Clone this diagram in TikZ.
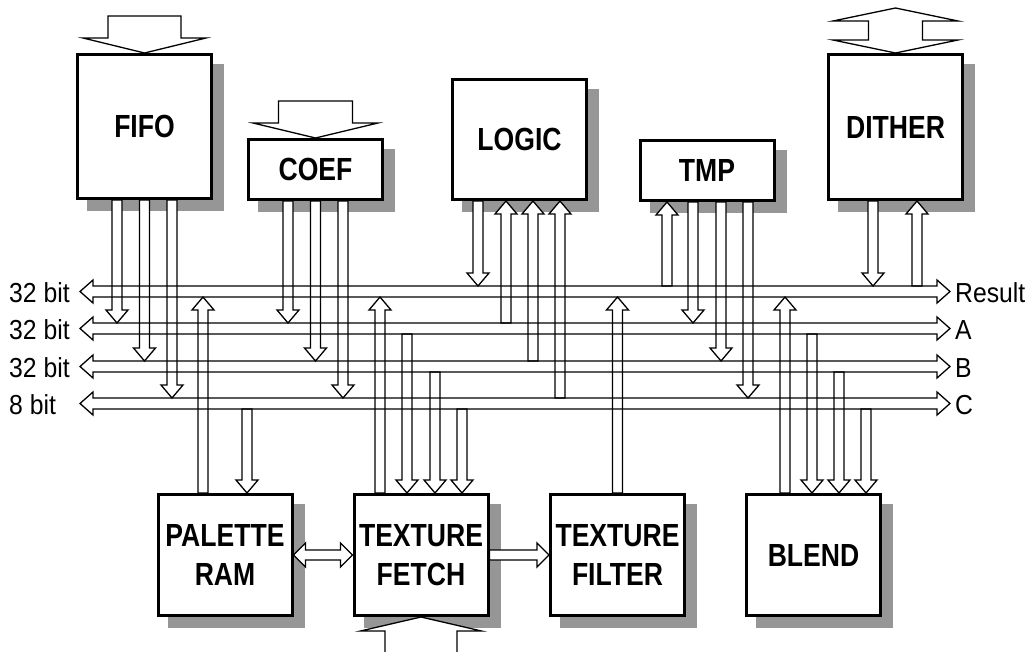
\documentclass[tikz,border=0pt]{standalone}
\usepackage{fontspec}
\setmainfont{Liberation Sans}
\newfontfamily\blockfont{Liberation Sans}[FakeStretch=0.83]
\newfontfamily\busfont{Liberation Sans}[FakeStretch=0.9]
\usetikzlibrary{calc}

\definecolor{pipeShadow}{RGB}{150,150,150}
\definecolor{pipeLine}{RGB}{0,0,0}
\definecolor{pipeFill}{RGB}{255,255,255}

\pgfdeclarelayer{shadow}
\pgfdeclarelayer{fills}
\pgfsetlayers{shadow,fills,main}

% hollow arrow: shaft half width, head half width, head length, tail, tip
\newcommand{\hollowarrow}[5]{%
  \path #4 coordinate (ha-t) #5 coordinate (ha-h);
  \path ($(ha-h)!#3!(ha-t)$) coordinate (ha-c);
  \def\hapath{($(ha-t)!#1!90:(ha-h)$) -- ($(ha-c)!#1!90:(ha-h)$)
    -- ($(ha-c)!#2!90:(ha-h)$) -- (ha-h) -- ($(ha-c)!#2!-90:(ha-h)$)
    -- ($(ha-c)!#1!-90:(ha-h)$) -- ($(ha-t)!#1!-90:(ha-h)$) -- cycle}%
  \begin{pgfonlayer}{fills}\fill[pipeFill] \hapath;\end{pgfonlayer}%
  \draw[hollowline] \hapath;}
% same, with a head at both ends
\newcommand{\hollowboth}[5]{%
  \path #4 coordinate (hb-a) #5 coordinate (hb-b);
  \path ($(hb-b)!#3!(hb-a)$) coordinate (hb-c) ($(hb-a)!#3!(hb-b)$) coordinate (hb-d);
  \def\hbpath{(hb-a) -- ($(hb-d)!#2!90:(hb-b)$) -- ($(hb-d)!#1!90:(hb-b)$)
    -- ($(hb-c)!#1!90:(hb-b)$) -- ($(hb-c)!#2!90:(hb-b)$) -- (hb-b)
    -- ($(hb-c)!#2!-90:(hb-b)$) -- ($(hb-c)!#1!-90:(hb-b)$)
    -- ($(hb-d)!#1!-90:(hb-b)$) -- ($(hb-d)!#2!-90:(hb-b)$) -- cycle}%
  \begin{pgfonlayer}{fills}\fill[pipeFill] \hbpath;\end{pgfonlayer}%
  \draw[hollowline] \hbpath;}
\newcommand{\smallarrow}[2]{\hollowarrow{5pt}{11pt}{13pt}{#1}{#2}}

\begin{document}
\begin{tikzpicture}[x=1pt,y=-1pt,
    block/.style={draw=pipeLine, fill=pipeFill, line width=3pt,
      minimum width=134pt, inner sep=0pt, align=center,
      font=\fontsize{32}{39}\selectfont\blockfont\bfseries},
    buslabel/.style={font=\fontsize{27.5}{30}\selectfont\busfont,
      anchor=base west, inner sep=0pt},
    hollowline/.style={draw=pipeLine, line width=1.3pt, line join=miter}]
  \useasboundingbox (0,0) rectangle (1032,652);
  \begin{pgfonlayer}{shadow}
    \fill[pipeFill] (0,0) rectangle (1032,652);
  \end{pgfonlayer}

  \node[block, minimum height=144pt] (fifo) at (144.5,126.5) {FIFO};
  \node[block, minimum height=60pt] (coef) at (315.5,169.5) {COEF};
  \node[block, minimum height=120pt] (logic) at (519.5,139.5) {LOGIC};
  \node[block, minimum height=60pt] (tmp) at (707,170.5) {TMP};
  \node[block, minimum height=145pt] (dither) at (895.5,127) {DITHER};
  \node[block, minimum height=121pt] (palette) at (225,555) {PALETTE\\RAM};
  \node[block, minimum height=121pt] (fetch) at (421,555) {TEXTURE\\FETCH};
  \node[block, minimum height=121pt] (filter) at (617.5,555) {TEXTURE\\FILTER};
  \node[block, minimum height=121pt] (blend) at (813.5,555) {BLEND};

  \begin{pgfonlayer}{shadow}
    \foreach \b in {fifo,coef,logic,tmp,dither,palette,fetch,filter,blend}
      \fill[pipeShadow] ([shift={(11,11)}]\b.north west)
        rectangle ([shift={(11,11)}]\b.south east);
  \end{pgfonlayer}

  % buses: Result, A, B, C
  \coordinate (resL) at (80,291.5);  \coordinate (resR) at (950,291.5);
  \coordinate (aL) at (80,328.5);    \coordinate (aR) at (950,328.5);
  \coordinate (bL) at (80,366.5);    \coordinate (bR) at (950,366.5);
  \coordinate (cL) at (80,403.5);    \coordinate (cR) at (950,403.5);
  \coordinate (resT) at (0,286); \coordinate (resB) at (0,297);
  \coordinate (aT) at (0,323);   \coordinate (aB) at (0,334);
  \coordinate (bT) at (0,361);   \coordinate (bB) at (0,372);
  \coordinate (cT) at (0,398);   \coordinate (cB) at (0,409);
  \hollowboth{5.5pt}{11.5pt}{13pt}{(resL)}{(resR)}
  \hollowboth{5.5pt}{11.5pt}{13pt}{(aL)}{(aR)}
  \hollowboth{5.5pt}{11.5pt}{13pt}{(bL)}{(bR)}
  \hollowboth{5.5pt}{11.5pt}{13pt}{(cL)}{(cR)}

  \node[buslabel] (lres) at (9,302.5) {32 bit};
  \node[buslabel] (la) at (9,339.5) {32 bit};
  \node[buslabel] (lb) at (9,377.5) {32 bit};
  \node[buslabel] (lc) at (9,414.5) {8 bit};
  \node[buslabel] (rres) at (955,302.5) {Result};
  \node[buslabel] (ra) at (955,339.5) {A};
  \node[buslabel] (rb) at (955,377.5) {B};
  \node[buslabel] (rc) at (955,414.5) {C};

  % big inputs
  \hollowarrow{36.5pt}{61.5pt}{15pt}{(144.5,16)}{(fifo.north)}
  \hollowarrow{37pt}{62.5pt}{15pt}{(315.5,101)}{(coef.north)}
  \hollowboth{27pt}{62.5pt}{13pt}{(dither.north)}{(895.5,8)}
  \hollowarrow{36pt}{60.5pt}{14pt}{(421,662)}{(fetch.south)}

  % upper blocks
  \smallarrow{(117,0 |- fifo.south)}{(117,0 |- aT)}
  \smallarrow{(144.5,0 |- fifo.south)}{(144.5,0 |- bT)}
  \smallarrow{(172,0 |- fifo.south)}{(172,0 |- cT)}
  \smallarrow{(288,0 |- coef.south)}{(288,0 |- aT)}
  \smallarrow{(315.5,0 |- coef.south)}{(315.5,0 |- bT)}
  \smallarrow{(343,0 |- coef.south)}{(343,0 |- cT)}
  \smallarrow{(478,0 |- logic.south)}{(478,0 |- resT)}
  \smallarrow{(506,0 |- aT)}{(506,0 |- logic.south)}
  \smallarrow{(533,0 |- bT)}{(533,0 |- logic.south)}
  \smallarrow{(560,0 |- cT)}{(560,0 |- logic.south)}
  \smallarrow{(667,0 |- resT)}{(667,0 |- tmp.south)}
  \smallarrow{(693,0 |- tmp.south)}{(693,0 |- aT)}
  \smallarrow{(721,0 |- tmp.south)}{(721,0 |- bT)}
  \smallarrow{(748,0 |- tmp.south)}{(748,0 |- cT)}
  \smallarrow{(873,0 |- dither.south)}{(873,0 |- resT)}
  \smallarrow{(917,0 |- resT)}{(917,0 |- dither.south)}

  % lower blocks
  \smallarrow{(203,0 |- palette.north)}{(203,0 |- resB)}
  \smallarrow{(247,0 |- cB)}{(247,0 |- palette.north)}
  \smallarrow{(380,0 |- fetch.north)}{(380,0 |- resB)}
  \smallarrow{(407,0 |- aB)}{(407,0 |- fetch.north)}
  \smallarrow{(435,0 |- bB)}{(435,0 |- fetch.north)}
  \smallarrow{(462,0 |- cB)}{(462,0 |- fetch.north)}
  \smallarrow{(617.5,0 |- filter.north)}{(617.5,0 |- resB)}
  \smallarrow{(785,0 |- blend.north)}{(785,0 |- resB)}
  \smallarrow{(812,0 |- aB)}{(812,0 |- blend.north)}
  \smallarrow{(839,0 |- bB)}{(839,0 |- blend.north)}
  \smallarrow{(866,0 |- cB)}{(866,0 |- blend.north)}

  \hollowboth{5pt}{12pt}{12pt}{(palette.east)}{(fetch.west)}
  \hollowarrow{5pt}{12pt}{12pt}{(fetch.east)}{(filter.west)}
\end{tikzpicture}
\end{document}
